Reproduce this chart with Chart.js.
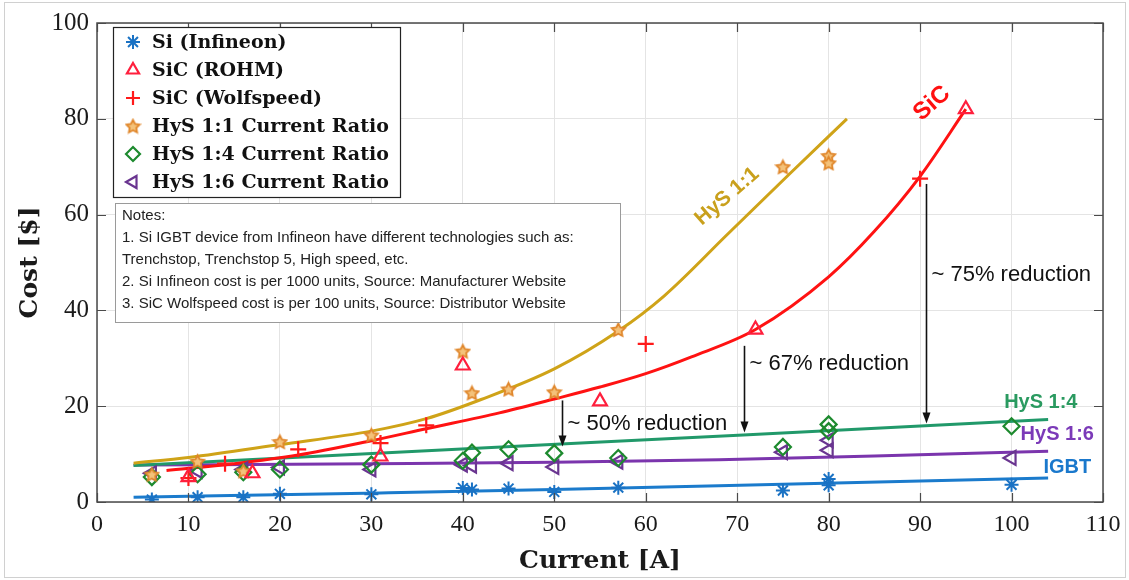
<!DOCTYPE html>
<html>
<head>
<meta charset="utf-8">
<script src="https://cdn.jsdelivr.net/npm/chart.js@4.4.1/dist/chart.umd.min.js"></script>
<style>
  html, body { margin: 0; padding: 0; background: #fff; }
  #wrap { width: 1129px; height: 580px; position: relative; }
</style>
</head>
<body>
<div id="wrap"><canvas id="c" width="1129" height="580"></canvas></div>
<script>
// Device cost [$] against current rating [A]
const siCurrent    = [6, 11, 16, 20, 30, 40, 41, 45, 50, 57, 75, 80, 80, 100];
const siCost       = [0.5, 1.0, 1.0, 1.7, 1.6, 2.9, 2.6, 2.8, 2.1, 3.0, 2.4, 3.5, 4.8, 3.6];

const rohmCurrent  = [10, 17, 31, 40, 55, 72, 95];
const rohmCost     = [5.2, 6.0, 9.5, 28.5, 21.0, 36.0, 82.0];

const wolfCurrent  = [10, 14, 22, 31, 36, 60, 90];
const wolfCost     = [5.0, 8.0, 11.0, 12.3, 16.0, 33.0, 67.5];

const hys11Current = [6, 11, 16, 20, 30, 40, 41, 45, 50, 57, 75, 80, 80];
const hys11Cost    = [5.8, 8.5, 6.5, 12.6, 14.0, 31.5, 22.8, 23.6, 23.0, 36.0, 70.0, 72.3, 70.8];

const hys14Current = [6, 11, 16, 20, 30, 40, 41, 45, 50, 57, 75, 80, 80, 100];
const hys14Cost    = [5.2, 5.8, 6.2, 6.8, 7.8, 8.6, 10.3, 11.0, 10.2, 9.2, 11.5, 14.8, 16.2, 15.8];

const hys16Current = [6, 11, 16, 20, 30, 40, 41, 45, 50, 57, 75, 80, 80, 100];
const hys16Cost    = [6.0, 6.5, 6.8, 7.2, 6.8, 7.8, 7.6, 8.1, 7.3, 8.4, 10.4, 12.9, 10.8, 9.2];

// Fitted trend curves
const fitHys11Current = [4, 10, 20, 30, 36, 42, 50, 57, 62, 69, 76, 82];
const fitHys11Cost    = [8.1, 9.3, 12.0, 14.8, 17.4, 21.4, 27.8, 35.7, 43.0, 56.0, 69.0, 80.0];

const fitSicCurrent   = [7.6, 15, 22, 30, 36, 44, 50, 55, 60, 65, 72, 80, 85, 90, 95];
const fitSicCost      = [6.6, 8.0, 9.8, 12.8, 15.3, 18.6, 21.5, 24.0, 26.8, 30.3, 36.0, 47.0, 56.5, 68.0, 82.0];

const fitHys14Current = [4, 54, 104];
const fitHys14Cost    = [7.6, 12.4, 17.2];

const fitHys16Current = [4, 30, 50, 68, 85, 104];
const fitHys16Cost    = [7.7, 8.0, 8.3, 8.8, 9.6, 10.6];

const fitIgbtCurrent  = [4, 31, 50, 68, 104];
const fitIgbtCost     = [1.0, 1.9, 2.6, 3.4, 5.0];

const xTickValues = [0, 10, 20, 30, 40, 50, 60, 70, 80, 90, 100, 110];
const yTickValues = [0, 20, 40, 60, 80, 100];

// Reduction arrows: from the SiC curve down to the HyS 1:4 curve
const reductionCurrent = [50.9, 70.8, 90.7];
const reductionFrom    = [21.2, 32.6, 66.4];
const reductionTo      = [11.6, 14.5, 16.4];
const reductionText    = ['~ 50% reduction', '~ 67% reduction', '~ 75% reduction'];
const reductionTextAt  = [16.4, 28.8, 47.3];

const notesLines = [
  'Notes:',
  '1. Si IGBT device from Infineon have different technologies such as:',
  'Trenchstop, Trenchstop 5, High speed, etc.',
  '2. Si Infineon cost is per 1000 units, Source: Manufacturer Website',
  '3. SiC Wolfspeed cost is per 100 units, Source: Distributor Website'
];

function pts(xs, ys) { return xs.map((x, i) => ({ x: x, y: ys[i] })); }

function pentagram(size, stroke, fill) {
  const c = document.createElement('canvas');
  c.width = c.height = size;
  const g = c.getContext('2d');
  const cx = size / 2, cy = size / 2 + 0.8, R = size / 2 - 1.5, r = R * 0.5;
  g.beginPath();
  for (let i = 0; i < 10; i++) {
    const a = -Math.PI / 2 + i * Math.PI / 5;
    const rr = i % 2 ? r : R;
    g.lineTo(cx + rr * Math.cos(a), cy + rr * Math.sin(a));
  }
  g.closePath();
  g.fillStyle = fill; g.fill();
  g.lineWidth = 1.8; g.strokeStyle = stroke; g.stroke();
  return c;
}
const starImg = pentagram(17, '#e0862a', '#f4c27a');

const scatterBase = { showLine: false, backgroundColor: 'rgba(0,0,0,0)', inLegend: true, order: 1 };
const fitBase = { type: 'line', pointRadius: 0, borderWidth: 3, fill: false, cubicInterpolationMode: 'monotone', inLegend: false, order: 2 };

const datasets = [
  Object.assign({}, scatterBase, { label: 'Si (Infineon)', data: pts(siCurrent, siCost),
    pointStyle: 'star', pointRadius: 7, borderWidth: 2, borderColor: '#1a72c4' }),
  Object.assign({}, scatterBase, { label: 'SiC (ROHM)', data: pts(rohmCurrent, rohmCost),
    pointStyle: 'triangle', pointRadius: 8, borderWidth: 2.2, borderColor: '#ff1f3d' }),
  Object.assign({}, scatterBase, { label: 'SiC (Wolfspeed)', data: pts(wolfCurrent, wolfCost),
    pointStyle: 'cross', pointRadius: 8, borderWidth: 2.2, borderColor: '#ff1a1a' }),
  Object.assign({}, scatterBase, { label: 'HyS 1:1 Current Ratio', data: pts(hys11Current, hys11Cost),
    pointStyle: starImg, pointRadius: 8, borderWidth: 1.8, borderColor: '#e0862a' }),
  Object.assign({}, scatterBase, { label: 'HyS 1:4 Current Ratio', data: pts(hys14Current, hys14Cost),
    pointStyle: 'rectRot', pointRadius: 8, borderWidth: 2.2, borderColor: '#1d8a2e' }),
  Object.assign({}, scatterBase, { label: 'HyS 1:6 Current Ratio', data: pts(hys16Current, hys16Cost),
    pointStyle: 'triangle', pointRotation: -90, pointRadius: 8, borderWidth: 2.2, borderColor: '#6a3590' }),

  Object.assign({}, fitBase, { label: 'HyS 1:1 fit', data: pts(fitHys11Current, fitHys11Cost), borderColor: '#cfa318' }),
  Object.assign({}, fitBase, { label: 'SiC fit', data: pts(fitSicCurrent, fitSicCost), borderColor: '#ff1212' }),
  Object.assign({}, fitBase, { label: 'HyS 1:4 fit', data: pts(fitHys14Current, fitHys14Cost), borderColor: '#21996a' }),
  Object.assign({}, fitBase, { label: 'HyS 1:6 fit', data: pts(fitHys16Current, fitHys16Cost), borderColor: '#7b35ad' }),
  Object.assign({}, fitBase, { label: 'IGBT fit', data: pts(fitIgbtCurrent, fitIgbtCost), borderColor: '#1b7bcc' })
];

// Box frame with inward ticks, curve labels and reduction arrows
const decorPlugin = {
  id: 'decor',
  afterDatasetsDraw(chart) {
    const ctx = chart.ctx, a = chart.chartArea;
    const xs = chart.scales.x, ys = chart.scales.y;
    ctx.save();

    // frame
    ctx.strokeStyle = '#4a4a4a';
    ctx.lineWidth = 1.5;
    ctx.strokeRect(a.left, a.top, a.right - a.left, a.bottom - a.top);
    ctx.lineWidth = 1.2;
    ctx.beginPath();
    xTickValues.forEach(v => {
      const px = Math.round(xs.getPixelForValue(v)) + 0.5;
      ctx.moveTo(px, a.bottom); ctx.lineTo(px, a.bottom - 9);
      ctx.moveTo(px, a.top); ctx.lineTo(px, a.top + 9);
    });
    yTickValues.forEach(v => {
      const py = Math.round(ys.getPixelForValue(v)) + 0.5;
      ctx.moveTo(a.left, py); ctx.lineTo(a.left + 9, py);
      ctx.moveTo(a.right, py); ctx.lineTo(a.right - 9, py);
    });
    ctx.stroke();

    // reduction arrows
    ctx.strokeStyle = '#111';
    ctx.fillStyle = '#111';
    ctx.lineWidth = 1.6;
    reductionCurrent.forEach((c, i) => {
      const px = xs.getPixelForValue(c);
      const y0 = ys.getPixelForValue(reductionFrom[i]);
      const y1 = ys.getPixelForValue(reductionTo[i]);
      ctx.beginPath(); ctx.moveTo(px, y0); ctx.lineTo(px, y1 - 8); ctx.stroke();
      ctx.beginPath(); ctx.moveTo(px - 4, y1 - 11); ctx.lineTo(px + 4, y1 - 11); ctx.lineTo(px, y1); ctx.closePath(); ctx.fill();
      ctx.font = '22px "Liberation Sans", Arial, sans-serif';
      ctx.textBaseline = 'middle';
      ctx.textAlign = 'left';
      ctx.fillStyle = '#111';
      ctx.fillText(reductionText[i], px + 5, ys.getPixelForValue(reductionTextAt[i]));
    });

    // curve labels
    const label = (txt, cx, cy, color, font, rot) => {
      ctx.save();
      ctx.translate(xs.getPixelForValue(cx), ys.getPixelForValue(cy));
      ctx.rotate(rot * Math.PI / 180);
      ctx.font = font;
      ctx.fillStyle = color;
      ctx.textAlign = 'center';
      ctx.textBaseline = 'middle';
      ctx.fillText(txt, 0, 0);
      ctx.restore();
    };
    label('HyS 1:1', 68.9, 63.8, '#c9a01c', 'bold 21px "Liberation Sans", Arial, sans-serif', -41);
    label('SiC', 91.3, 83.2, '#ff1010', 'bold 24px "Liberation Sans", Arial, sans-serif', -41);
    label('HyS 1:4', 103.2, 20.8, '#2a9a60', 'bold 20px "Liberation Sans", Arial, sans-serif', 0);
    label('HyS 1:6', 105.0, 14.0, '#7b3ab8', 'bold 20px "Liberation Sans", Arial, sans-serif', 0);
    label('IGBT', 106.1, 7.2, '#1a78cc', 'bold 20px "Liberation Sans", Arial, sans-serif', 0);
    ctx.restore();
  },
  afterDraw(chart) {
    const ctx = chart.ctx;
    ctx.save();
    // marker legend
    ctx.fillStyle = '#fff';
    ctx.fillRect(113, 27, 288, 171);
    ctx.strokeStyle = '#222';
    ctx.lineWidth = 1.2;
    ctx.strokeRect(113.5, 27.5, 287, 170);
    chart.data.datasets.filter(d => d.inLegend).forEach((d, i) => {
      const y = 42 + i * 28;
      ctx.save();
      ctx.strokeStyle = d.borderColor;
      ctx.fillStyle = 'rgba(0,0,0,0)';
      ctx.lineWidth = d.borderWidth;
      Chart.helpers.drawPoint(ctx, {
        pointStyle: d.pointStyle, rotation: d.pointRotation || 0,
        radius: 7, borderWidth: d.borderWidth
      }, 133, y);
      ctx.restore();
      ctx.fillStyle = '#111';
      ctx.font = 'bold 19px "DejaVu Serif", serif';
      ctx.textBaseline = 'middle';
      ctx.textAlign = 'left';
      ctx.fillText(d.label, 152, y + 1);
    });

    // notes box
    ctx.fillStyle = '#fff';
    ctx.fillRect(115, 203, 505, 119);
    ctx.strokeStyle = '#9a9a9a';
    ctx.lineWidth = 1;
    ctx.strokeRect(115.5, 203.5, 505, 119);
    ctx.fillStyle = '#222';
    ctx.font = '15px "Liberation Sans", Arial, sans-serif';
    ctx.textBaseline = 'middle';
    notesLines.forEach((t, i) => ctx.fillText(t, 122, 216 + i * 22));

    // outer border
    ctx.strokeStyle = '#d0d0d0';
    ctx.lineWidth = 1;
    ctx.strokeRect(4.5, 2.5, 1121, 575);
    ctx.restore();
  }
};

new Chart(document.getElementById('c'), {
  type: 'scatter',
  data: { datasets: datasets },
  plugins: [decorPlugin],
  options: {
    responsive: false,
    animation: false,
    layout: { padding: { top: 21, right: 26, bottom: 2, left: 4 } },
    plugins: { legend: { display: false }, tooltip: { enabled: false } },
    scales: {
      x: {
        type: 'linear', min: 0, max: 110,
        afterBuildTicks: s => { s.ticks = xTickValues.map(v => ({ value: v })); },
        afterFit: s => { s.height = 76; },
        grid: { color: '#e4e4e4', lineWidth: 1, drawTicks: false },
        border: { display: false },
        ticks: { padding: 8, color: '#1a1a1a', font: { family: '"Liberation Serif", serif', size: 24 } },
        title: { display: true, text: 'Current [A]', color: '#1a1a1a', padding: { top: 0, bottom: 2 },
                 font: { family: '"DejaVu Serif", serif', size: 25, weight: 'bold' } }
      },
      y: {
        type: 'linear', min: 0, max: 100,
        afterBuildTicks: s => { s.ticks = yTickValues.map(v => ({ value: v })); },
        afterFit: s => { s.width = 93; },
        grid: { color: '#e4e4e4', lineWidth: 1, drawTicks: false },
        border: { display: false },
        ticks: { padding: 8, color: '#1a1a1a', font: { family: '"Liberation Serif", serif', size: 25 } },
        title: { display: true, text: 'Cost [$]', color: '#1a1a1a', padding: { top: 11, bottom: 0 },
                 font: { family: '"DejaVu Serif", serif', size: 25, weight: 'bold' } }
      }
    }
  }
});
</script>
</body>
</html>
